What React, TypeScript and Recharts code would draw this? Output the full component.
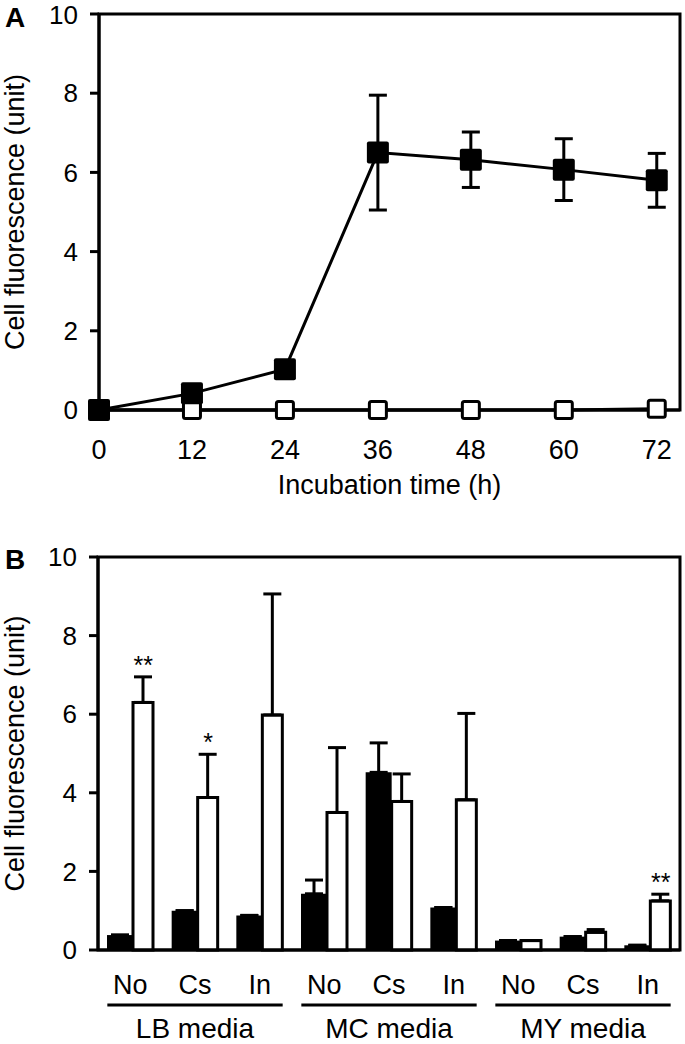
import React from 'react';
import {
  LineChart, Line, BarChart, Bar, XAxis, YAxis, ErrorBar, ReferenceArea, ReferenceDot,
} from 'recharts';

const FONT = '"Liberation Sans", Arial, Helvetica, sans-serif';

// Panel A: time course
const hours = [0, 12, 24, 36, 48, 60, 72];
const filledVals = [0, 0.42, 1.03, 6.5, 6.32, 6.07, 5.8];
const filledErr = [0, 0.04, 0.08, 1.45, 0.7, 0.78, 0.68];
const openVals = [0, 0, 0, 0, 0, 0, 0.03];
const yTicks = [0, 2, 4, 6, 8, 10];

// Panel B: media / treatment
const mediaNames = ['LB media', 'MC media', 'MY media'];
const treatments = ['No', 'Cs', 'In'];
const blackVals = [0.38, 1.0, 0.88, 1.43, 4.52, 1.08, 0.24, 0.34, 0.12];
const blackErr = [0, 0, 0, 0.35, 0.75, 0, 0, 0, 0];
const whiteVals = [6.3, 3.88, 5.98, 3.5, 3.78, 3.82, 0.24, 0.45, 1.25];
const whiteErr = [0.65, 1.1, 3.08, 1.65, 0.7, 2.2, 0, 0.07, 0.17];
const marks = ['**', '*', '', '', '', '', '', '', '**'];

const dataA = hours.map((h, i) => ({
  h,
  filled: filledVals[i],
  err: filledErr[i],
  open: openVals[i],
}));

const dataB = mediaNames.flatMap((m, gi) =>
  treatments.map((t, ti) => {
    const i = gi * 3 + ti;
    return {
      key: `${m}|${t}`,
      black: blackVals[i],
      bErr: [0, blackErr[i]],
      white: whiteVals[i],
      wErr: [0, whiteErr[i]],
      mark: marks[i],
    };
  })
);

const axisStroke = { stroke: '#000', strokeWidth: 3 };

const FilledSquare = (p: any) =>
  p.cx == null ? null : (
    <rect key={`f${p.index}`} x={p.cx - 11} y={p.cy - 11} width={22} height={22} rx={2} fill="#000" />
  );

const OpenSquare = (p: any) =>
  p.cx == null ? null : (
    <rect key={`o${p.index}`} x={p.cx - 8.5} y={p.cy - 8.5} width={17} height={17} rx={2}
      fill="#fff" stroke="#000" strokeWidth={3} />
  );

const YTitle = (props: any) => {
  const vb = props.viewBox || { x: 0, y: 0, width: 0, height: 0 };
  const cx = vb.x + 14;
  const cy = vb.y + vb.height / 2;
  return (
    <text x={cx} y={cy} transform={`rotate(-90 ${cx} ${cy})`} textAnchor="middle" dy="0.36em"
      fontSize={27} fill="#000">
      Cell fluorescence (unit)
    </text>
  );
};

const MediaTick = (props: any) => {
  const { x, y, payload } = props;
  const [media, treat] = String(payload.value).split('|');
  const half = payload.offset ?? 32.3;
  const mid = treat === treatments[1];
  return (
    <g>
      <text x={x} y={y} dy="0.71em" textAnchor="middle" fontSize={27} fill="#000">{treat}</text>
      {mid && (
        <>
          <line x1={x - half * 2 - 23} x2={x + half * 2 + 23} y1={y + 30} y2={y + 30}
            stroke="#000" strokeWidth={3} />
          <text x={x} y={y + 43} dy="0.71em" textAnchor="middle" fontSize={28} fill="#000">{media}</text>
        </>
      )}
    </g>
  );
};

const panelLabel = (top: number): React.CSSProperties => ({
  position: 'absolute', left: 5, top, fontSize: 28, fontWeight: 'bold', lineHeight: 1,
});

export default function App() {
  return (
    <div style={{ position: 'absolute', left: 0, top: 0, width: 685, height: 1044, fontFamily: FONT, background: '#fff' }}>
      <div style={{ position: 'absolute', left: 0, top: 0 }}>
        <LineChart width={685} height={510} data={dataA} margin={{ top: 14, right: 5, bottom: 0, left: 0 }}>
          <XAxis
            dataKey="h"
            type="number"
            domain={[0, 75]}
            ticks={hours}
            tickLine={false}
            tickSize={0}
            tickMargin={30}
            axisLine={axisStroke}
            height={100}
            tick={{ fontSize: 27, fill: '#000' }}
            label={{ value: 'Incubation time (h)', position: 'insideBottom', offset: 16, fontSize: 27, fill: '#000' }}
          />
          <YAxis
            domain={[0, 10]}
            ticks={yTicks}
            width={99}
            tickSize={9}
            tickMargin={12}
            tickLine={axisStroke}
            axisLine={axisStroke}
            tick={{ fontSize: 26, fill: '#000' }}
            label={<YTitle />}
          />
          <ReferenceArea y1={0} y2={10} fill="none" stroke="#000" strokeWidth={3} />
          <Line dataKey="open" stroke="#000" strokeWidth={3} dot={OpenSquare} isAnimationActive={false} />
          <Line dataKey="filled" stroke="#000" strokeWidth={3} dot={FilledSquare} isAnimationActive={false}>
            <ErrorBar dataKey="err" direction="y" width={9} stroke="#000" strokeWidth={3} />
          </Line>
        </LineChart>
      </div>
      <div style={{ position: 'absolute', left: 0, top: 500 }}>
        <BarChart width={685} height={544} data={dataB} barGap={0}
          margin={{ top: 57, right: 5, bottom: 0, left: 0 }}>
          <XAxis
            dataKey="key"
            interval={0}
            tickLine={false}
            tickSize={0}
            tickMargin={25}
            axisLine={axisStroke}
            height={94}
            tick={<MediaTick />}
          />
          <YAxis
            domain={[0, 10]}
            ticks={yTicks}
            width={98}
            tickSize={9}
            tickMargin={12}
            tickLine={axisStroke}
            axisLine={axisStroke}
            tick={{ fontSize: 26, fill: '#000' }}
            label={<YTitle />}
          />
          <ReferenceArea y1={0} y2={10} fill="none" stroke="#000" strokeWidth={3} />
          <Bar dataKey="black" fill="#000" barSize={26} isAnimationActive={false}>
            <ErrorBar dataKey="bErr" direction="y" width={9} stroke="#000" strokeWidth={3} />
          </Bar>
          <Bar dataKey="white" fill="#fff" stroke="#000" strokeWidth={3} barSize={20} isAnimationActive={false}>
            <ErrorBar dataKey="wErr" direction="y" width={9} stroke="#000" strokeWidth={3} />
          </Bar>
          {dataB.filter((d) => d.mark).map((d) => (
            <ReferenceDot
              key={d.key}
              x={d.key}
              y={d.white + d.wErr[1]}
              r={1}
              fill="none"
              stroke="none"
              label={{ value: d.mark, position: 'top', dx: 13, offset: 2, fontSize: 25, fill: '#000' }}
            />
          ))}
        </BarChart>
      </div>
      <div style={panelLabel(4)}>A</div>
      <div style={panelLabel(546)}>B</div>
    </div>
  );
}
